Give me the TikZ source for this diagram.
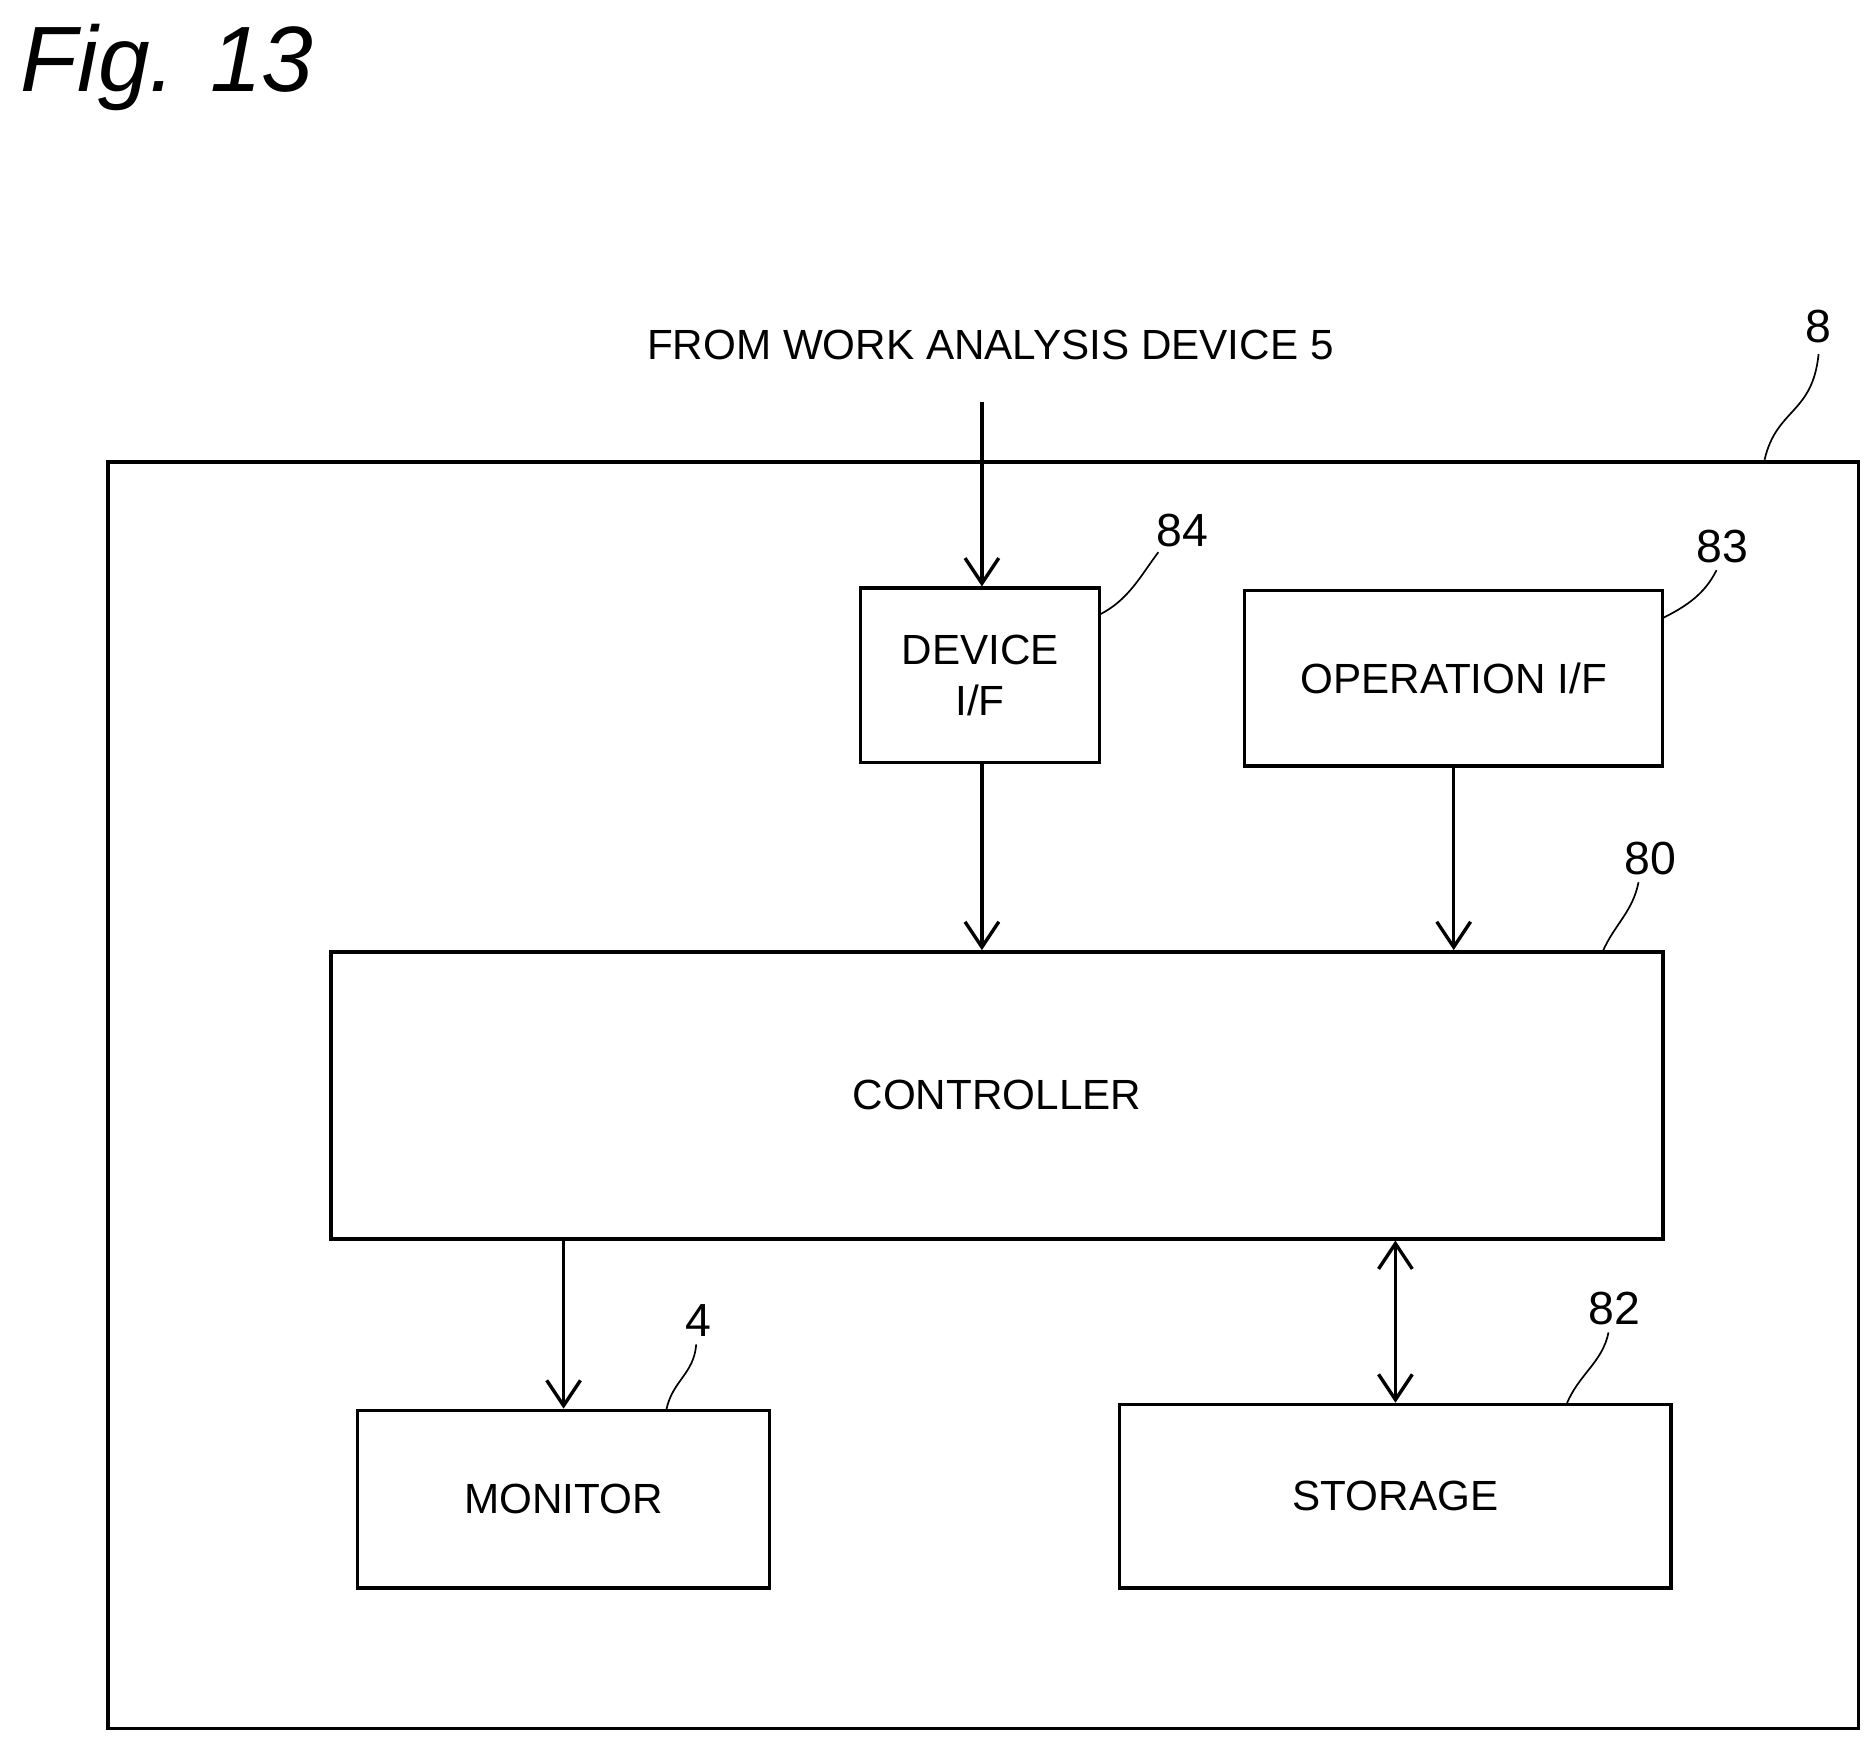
\documentclass[tikz,border=0pt]{standalone}
\usepackage{fontspec}
\setmainfont{Liberation Sans}
\usetikzlibrary{positioning, arrows.meta}

\begin{document}
\begin{tikzpicture}[x=0.01cm, y=-0.01cm]
\tikzstyle{block}=[draw, thick, rectangle, text centered, inner sep=0pt, font=\fontsize{10}{12}\selectfont]
\tikzstyle{path}=[draw, thick, -{Straight Barb[length=6pt, width=8pt]}]
\tikzstyle{lead}=[draw, thin]
\tikzstyle{num}=[font=\fontsize{11}{13}\selectfont]

\useasboundingbox (0,0) rectangle (1562,1455);

\node[anchor=north west, font=\fontsize{22}{26}\selectfont\itshape] (fig) at (5,8) {Fig. 13};

% outer device
\draw[thick] (90,385) rectangle (1548,1440);
\node[num] (n8) at (1515,272) {8};
\draw[lead] (1470,383) .. controls (1480,340) and (1510,345) .. (1515,295);

\node[block, draw=none] (src) at (825,287) {FROM WORK ANALYSIS DEVICE 5};

% blocks
\node[block, minimum width=1.99cm, minimum height=1.45cm, align=center] (devif) at (816.5,562.5) {DEVICE\\I/F};
\node[block, minimum width=3.48cm, minimum height=1.46cm] (opif) at (1211,565) {OPERATION I/F};
\node[block, minimum width=11.09cm, minimum height=2.39cm] (ctrl) at (830.5,912.5) {CONTROLLER};
\node[block, minimum width=3.43cm, minimum height=1.48cm] (mon) at (469.5,1249) {MONITOR};
\node[block, minimum width=4.59cm, minimum height=1.53cm] (stor) at (1162.5,1246.5) {STORAGE};

% reference numerals
\node[num] (n84) at (985,442) {84};
\draw[lead] (916,512) .. controls (940,500) and (950,480) .. (965,460);
\node[num] (n83) at (1435,455) {83};
\draw[lead] (1385,515) .. controls (1405,505) and (1420,495) .. (1430,475);
\node[num] (n80) at (1375,715) {80};
\draw[lead] (1335,793) .. controls (1345,770) and (1360,760) .. (1365,735);
\node[num] (n4) at (582,1100) {4};
\draw[lead] (555,1175) .. controls (560,1150) and (578,1145) .. (580,1120);
\node[num] (n82) at (1345,1090) {82};
\draw[lead] (1305,1170) .. controls (1315,1145) and (1335,1135) .. (1340,1110);

% connectors
\coordinate (in) at (818,335);
\path[path] (in) -- (in |- devif.north);
\path[path] (devif.south -| in) -- (in |- ctrl.north);
\path[path] (opif.south) -- (opif.south |- ctrl.north);
\path[path] (ctrl.south -| mon.north) -- (mon.north);
\path[path, {Straight Barb[length=6pt, width=8pt]}-{Straight Barb[length=6pt, width=8pt]}] (ctrl.south -| stor.north) -- (stor.north);
\end{tikzpicture}
\end{document}
